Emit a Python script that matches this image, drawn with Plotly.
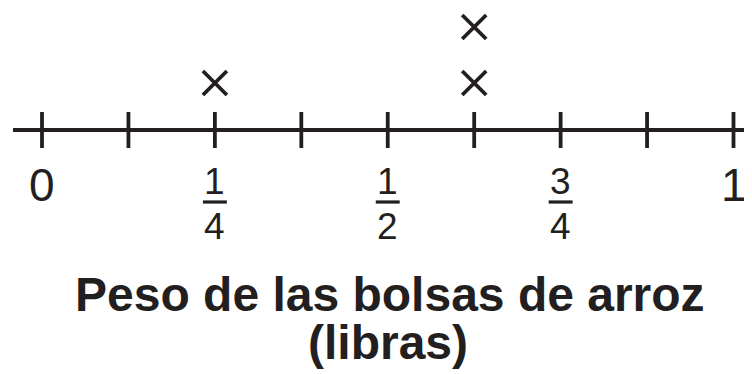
import plotly.graph_objects as go

# datos del diagrama de puntos (libras)
TICK_VALUES = [0, 0.125, 0.25, 0.375, 0.5, 0.625, 0.75, 0.875, 1]
LABEL_VALUES = [0, 0.25, 0.5, 0.75, 1]
LABEL_NUM = ["0", "1", "1", "3", "1"]
LABEL_DEN = [None, "4", "2", "4", None]
MARK_X = [0.25, 0.625, 0.625]
MARK_COUNT = [1, 1, 2]
TITLE_LINES = ["Peso de las bolsas de arroz", "(libras)"]

INK = "#231f20"
FONT = "Liberation Sans, Arial, sans-serif"
W, H = 752, 374
PAGE_PAD = 8  # margen por defecto del <body>

# escala en px de la ventana: 0 -> 42 px, 1 -> 733.5 px ; una cruz = 56 px, primera cruz a 83 px
X0_PX, X1_PX = 42, 733.5
UNIT_X = X1_PX - X0_PX
STACK_PX, FIRST_PX = 56, 83


def px_to_y(p):
    return 1 + (FIRST_PX - p) / STACK_PX


def px_to_x(p):
    return (p - X0_PX) / UNIT_X


AXIS_Y = px_to_y(130)

fig = go.Figure()

# recta numérica
fig.add_trace(go.Scatter(
    x=[px_to_x(13), px_to_x(W + 10)], y=[AXIS_Y, AXIS_Y],
    mode="lines", line=dict(color=INK, width=4), hoverinfo="skip"
))
# marcas de la recta
fig.add_trace(go.Scatter(
    x=TICK_VALUES, y=[AXIS_Y] * len(TICK_VALUES), mode="markers",
    marker=dict(symbol="line-ns", size=25.7, line=dict(color=INK, width=3.8)),
    hoverinfo="skip"
))
# cruces
fig.add_trace(go.Scatter(
    x=MARK_X, y=MARK_COUNT, mode="markers",
    marker=dict(symbol="x-thin", size=24, line=dict(color=INK, width=3.8)),
    hoverinfo="skip"
))

# barras de fracción
frac_x = [v for v, d in zip(LABEL_VALUES, LABEL_DEN) if d]
fig.add_trace(go.Scatter(
    x=frac_x, y=[px_to_y(202)] * len(frac_x), mode="markers",
    marker=dict(symbol="line-ew", size=17.1, line=dict(color=INK, width=3.2)),
    hoverinfo="skip"
))

# etiquetas: enteros y fracciones
for v, num, den in zip(LABEL_VALUES, LABEL_NUM, LABEL_DEN):
    if den is None:
        fig.add_annotation(x=v, y=px_to_y(185), text=num, showarrow=False,
                           xanchor="center", yanchor="middle",
                           font=dict(family=FONT, size=46, color=INK))
    else:
        fig.add_annotation(x=v, y=px_to_y(181.7), text=num, showarrow=False,
                           xanchor="center", yanchor="middle",
                           font=dict(family=FONT, size=37, color=INK))
        fig.add_annotation(x=v, y=px_to_y(226.7), text=den, showarrow=False,
                           xanchor="center", yanchor="middle",
                           font=dict(family=FONT, size=37, color=INK))

# título del eje
for line, cy, cx in zip(TITLE_LINES, [294.5, 342.5], [389.5, 387.5]):
    fig.add_annotation(x=px_to_x(cx), y=px_to_y(cy), text=f"<b>{line}</b>",
                       showarrow=False, xanchor="center", yanchor="middle",
                       font=dict(family=FONT, size=48, color=INK))

fig.update_layout(
    width=W - PAGE_PAD, height=H - PAGE_PAD,
    margin=dict(l=0, r=0, t=0, b=0),
    paper_bgcolor="white", plot_bgcolor="white",
    showlegend=False,
    xaxis=dict(range=[px_to_x(PAGE_PAD), px_to_x(W)], visible=False, fixedrange=True),
    yaxis=dict(range=[px_to_y(H), px_to_y(PAGE_PAD)], visible=False, fixedrange=True),
)

fig.write_html("out.html", config={"displayModeBar": False})
